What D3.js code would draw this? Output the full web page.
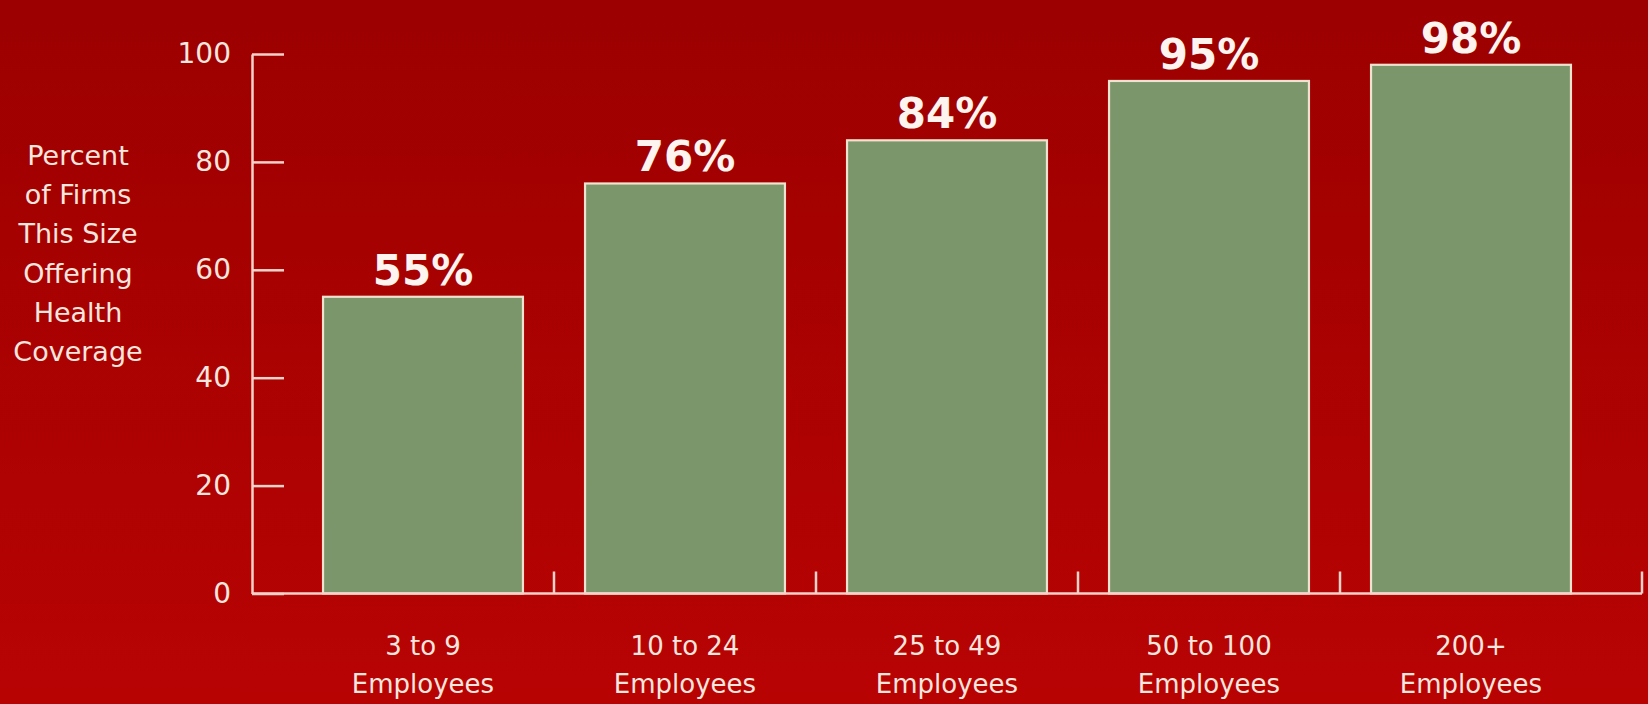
<!DOCTYPE html>
<html>
<head>
<meta charset="utf-8">
<script src="https://cdn.jsdelivr.net/npm/d3@7"></script>
<style>
  html, body { margin: 0; padding: 0; background: #a30000; }
  svg { display: block; }
</style>
</head>
<body>
<svg id="chart" width="1648" height="704"></svg>
<script>
// ---- data ----
const categories = ["3 to 9", "10 to 24", "25 to 49", "50 to 100", "200+"];
const categoryUnit = "Employees";
const values = [55, 76, 84, 95, 98];
const yTicks = [0, 20, 40, 60, 80, 100];
const yTitleLines = ["Percent", "of Firms", "This Size", "Offering", "Health", "Coverage"];

// ---- setup ----
const W = 1648, H = 704;
const svg = d3.select("#chart");
const FONT = "'DejaVu Sans', sans-serif";
const textColor = "#f9e6df";
const axisColor = "#f5d3ca";

const defs = svg.append("defs");
const grad = defs.append("linearGradient").attr("id", "bg").attr("x1", 0).attr("y1", 0).attr("x2", 0).attr("y2", 1);
grad.append("stop").attr("offset", "0%").attr("stop-color", "#9c0000");
grad.append("stop").attr("offset", "100%").attr("stop-color", "#b80303");
svg.append("rect").attr("width", W).attr("height", H).attr("fill", "url(#bg)");

const y = d3.scaleLinear().domain([0, 100]).range([593.5, 54]);
const x = d3.scaleBand().domain(categories).range([292, 1602]).paddingInner(0.237).paddingOuter(0.1185);
const axisLeftX = x.range()[0] - 40;
const axisRightX = x.range()[1] + 40;

// ---- y axis ----
const yAxis = d3.axisLeft(y).tickValues(yTicks).tickSizeInner(-32).tickSizeOuter(0).tickPadding(21);
const gy = svg.append("g").attr("transform", `translate(${axisLeftX},0)`).call(yAxis);
gy.select(".domain").attr("stroke", axisColor).attr("stroke-width", 2.5);
gy.selectAll(".tick line").attr("stroke", axisColor).attr("stroke-width", 2.5);
gy.selectAll(".tick text").attr("fill", textColor).attr("font-family", FONT).attr("font-size", 28);

// ---- y title ----
const yTitle = svg.append("text").attr("font-family", FONT).attr("font-size", 27)
  .attr("fill", textColor).attr("text-anchor", "middle");
yTitle.selectAll("tspan").data(yTitleLines).join("tspan")
  .attr("x", 78).attr("y", (d, i) => 165 + i * 39.2).text(d => d);

// ---- bars ----
svg.append("g").selectAll("rect").data(values).join("rect")
  .attr("x", (d, i) => x(categories[i]))
  .attr("y", d => y(d))
  .attr("width", x.bandwidth())
  .attr("height", d => y(0) - y(d))
  .attr("fill", "#7b966a")
  .attr("stroke", "#f2e2cf")
  .attr("stroke-width", 2.2);

// ---- value labels ----
svg.append("g").selectAll("text").data(values).join("text")
  .attr("x", (d, i) => x(categories[i]) + x.bandwidth() / 2)
  .attr("y", d => y(d) - 12)
  .attr("text-anchor", "middle")
  .attr("font-family", FONT).attr("font-weight", "bold").attr("font-size", 42)
  .attr("fill", "#fdf3ef")
  .text(d => d + "%");

// ---- x axis ----
const gx = svg.append("g");
gx.append("line").attr("x1", axisLeftX).attr("x2", axisRightX)
  .attr("y1", y(0)).attr("y2", y(0))
  .attr("stroke", axisColor).attr("stroke-width", 2.5);
const gap = x.step() * x.paddingInner() / 2;
const tickXs = categories.slice(1).map(c => x(c) - gap).concat([axisRightX]);
gx.selectAll("line.tick").data(tickXs).join("line").attr("class", "tick")
  .attr("x1", d => d).attr("x2", d => d)
  .attr("y1", y(0)).attr("y2", y(0) - 22)
  .attr("stroke", axisColor).attr("stroke-width", 2.5);

const xl = gx.selectAll("text").data(categories).join("text")
  .attr("text-anchor", "middle").attr("font-family", FONT).attr("font-size", 26)
  .attr("fill", textColor);
xl.append("tspan").attr("x", d => x(d) + x.bandwidth() / 2).attr("y", 655).text(d => d);
xl.append("tspan").attr("x", d => x(d) + x.bandwidth() / 2).attr("y", 693).text(categoryUnit);
</script>
</body>
</html>
